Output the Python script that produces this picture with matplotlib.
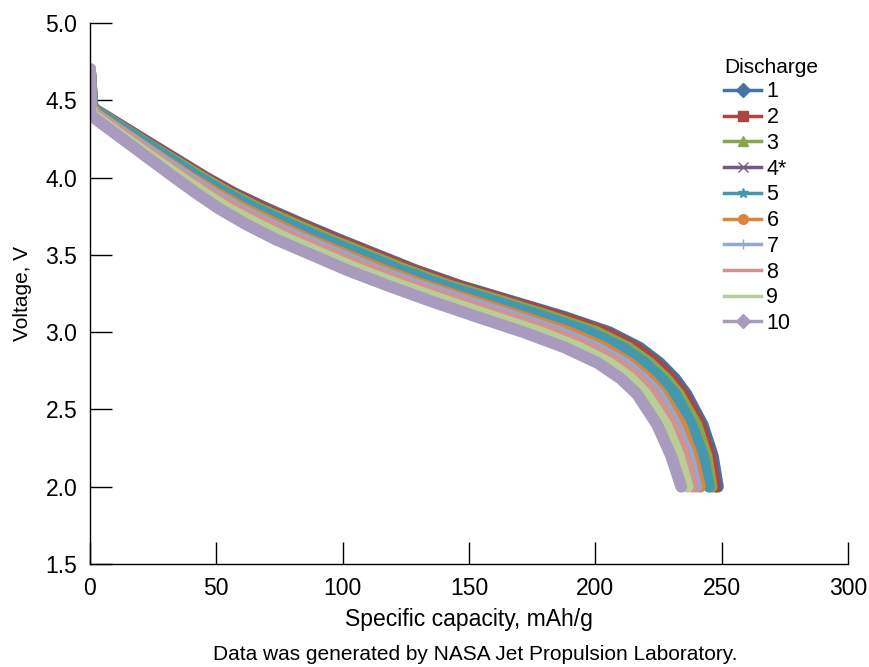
import matplotlib.pyplot as plt
from matplotlib.lines import Line2D

plt.rcParams['font.family'] = ['Liberation Sans', 'DejaVu Sans']

# voltage levels shared by all discharges (V)
volts = [4.70, 4.45, 4.40, 4.20, 4.00, 3.90, 3.80, 3.70, 3.60, 3.40, 3.30,
         3.20, 3.10, 3.00, 2.90, 2.80, 2.70, 2.60, 2.40, 2.20, 2.00]

# specific capacity at each voltage level (mAh/g)
cap1 = [0, 1, 6, 26, 46, 57, 70, 84, 98.5, 129, 146.5, 167, 187.5, 205.5, 217.5, 225.5, 231.5, 236, 242.5, 246.5, 248.5]
cap2 = [0, 1, 6, 25.5, 45.5, 56.5, 69, 83, 97.5, 128, 145.5, 166, 186, 204, 216, 224, 230, 235, 241.5, 245.5, 247.5]
cap3 = [0, 1, 5.5, 24.5, 44.5, 55, 67, 81, 95, 125.5, 142.5, 163, 182.5, 200.5, 213, 221.5, 228, 233, 240, 244, 246]
# discharge 4 stopped early, at 3.3 V
volts4 = [4.70, 4.45, 4.40, 4.20, 4.00, 3.90, 3.80, 3.70, 3.60, 3.40, 3.30]
cap4 = [0, 0.5, 4.5, 23, 42, 52, 63.5, 76.5, 90.5, 120, 134]
cap5 = [0, 1, 5, 24, 43, 53.5, 65.5, 78.5, 92.5, 123, 140, 160, 179.5, 197.5, 210.5, 219.5, 226, 231.5, 238, 242.5, 245]
cap6 = [0, 0.5, 3.5, 21.5, 40, 50, 61, 73.5, 86.5, 116.5, 133, 152, 171, 189.5, 203.5, 213.5, 221, 226.5, 234, 238.5, 241.5]
cap7 = [0, 0.5, 3, 21, 39, 48.5, 59, 71, 84.5, 113.5, 130.5, 149, 168, 186, 200.5, 211.5, 219, 225, 232, 237, 240]
cap8 = [0, 0.5, 2.5, 20, 37.5, 47, 57.5, 69, 82, 111, 127.5, 146, 164.5, 183, 198, 209, 217, 223, 230.5, 235.5, 238.5]
cap9 = [0, 0, 1.5, 18.5, 36, 45, 54.5, 66, 78.5, 107, 123.5, 141, 159.5, 178, 193.5, 205.5, 214, 220, 228, 233, 236.5]
cap10 = [0, 0, 0.5, 17, 33.5, 42, 51, 61.5, 73.5, 102, 118, 135, 153, 171.5, 188, 201, 210, 216.5, 224.5, 230, 234]

labels = ['1', '2', '3', '4*', '5', '6', '7', '8', '9', '10']
colors = ['#4572A7', '#AA4643', '#89A54E', '#71588F', '#4198AF',
          '#DB843D', '#93A9CF', '#D19392', '#B9CD96', '#A99BBD']
markers = ['D', 's', '^', 'x', '*', 'o', '+', '', '', 'D']

series = [(cap1, volts), (cap2, volts), (cap3, volts), (cap4, volts4), (cap5, volts),
          (cap6, volts), (cap7, volts), (cap8, volts), (cap9, volts), (cap10, volts)]

fig = plt.figure(figsize=(8.7, 6.67), dpi=100)
ax = fig.add_axes([0.1034, 0.1544, 0.8713, 0.8111])

for (c, v), col in zip(series, colors):
    ax.plot(c, v, color=col, lw=8.5, solid_capstyle='round', solid_joinstyle='round')

ax.set_xlim(0, 300)
ax.set_ylim(1.5, 5.0)
ax.set_xticks([0, 50, 100, 150, 200, 250, 300])
ax.set_yticks([1.5, 2.0, 2.5, 3.0, 3.5, 4.0, 4.5, 5.0])
ax.set_yticklabels(['1.5', '2.0', '2.5', '3.0', '3.5', '4.0', '4.5', '5.0'])
ax.tick_params(direction='in', length=16, width=1, labelsize=16.5, colors='black')
ax.tick_params(axis='x', pad=9)
ax.tick_params(axis='y', pad=9)
ax.spines['top'].set_visible(False)
ax.spines['right'].set_visible(False)
ax.spines['left'].set_linewidth(1)
ax.spines['bottom'].set_linewidth(1)

ax.set_xlabel('Specific capacity, mAh/g', fontsize=16.5, labelpad=6)
ax.set_ylabel('Voltage, V', fontsize=15, labelpad=10)
fig.text(0.546, 0.018, 'Data was generated by NASA Jet Propulsion Laboratory.',
         ha='center', va='center', fontsize=15)

handles = [Line2D([], [], color=col, lw=2.5, marker=m, markersize=7,
                  markeredgecolor=col, markerfacecolor=col)
           for col, m in zip(colors, markers)]
leg = ax.legend(handles, labels, title='Discharge', loc='upper left',
                bbox_to_anchor=(0.837, 0.936), frameon=False, fontsize=15.5,
                title_fontsize=15, handlelength=1.7, handletextpad=0.25,
                labelspacing=0.22, alignment='left', borderaxespad=0, borderpad=0)

fig.savefig('out.png', dpi=100)
